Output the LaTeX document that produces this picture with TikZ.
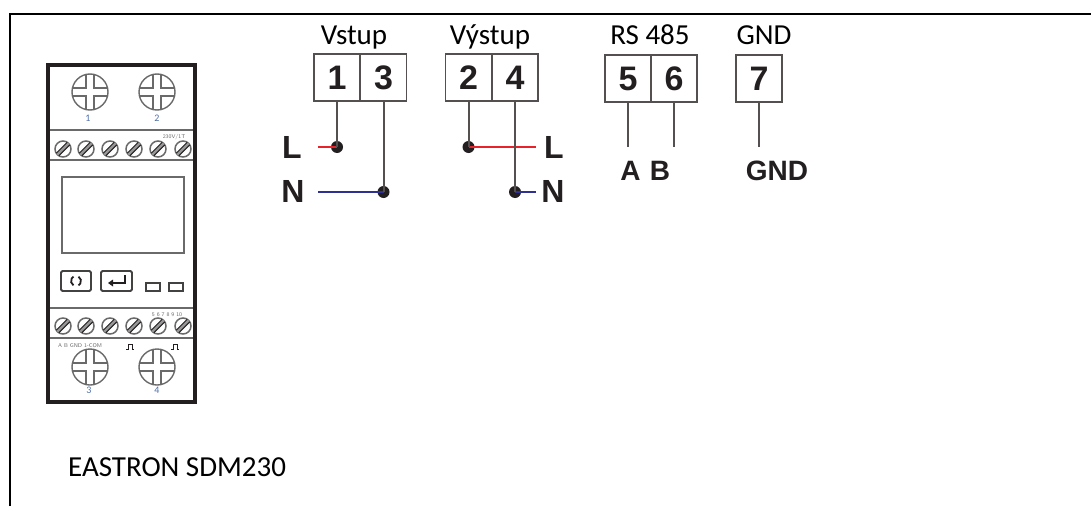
\documentclass[tikz,border=0pt]{standalone}
\usepackage{fontspec}
\setmainfont{Carlito}
\newfontfamily\labelfont{Liberation Sans}

\definecolor{ink}{HTML}{231F20}
\definecolor{wire}{HTML}{555050}
\definecolor{lred}{HTML}{E8222B}
\definecolor{lblue}{HTML}{2E3192}
\definecolor{meter}{HTML}{6A6A6A}
\definecolor{tag}{HTML}{4F6FA8}

\tikzset{
  frameline/.style={line width=2.4, black},
  meterline/.style={draw=meter, line width=1.4},
  cell/.style={draw=wire, line width=1.6, minimum width=46, minimum height=47,
    inner sep=0, text=ink, font=\labelfont\bfseries\fontsize{34}{34}\selectfont},
  heading/.style={anchor=base, inner sep=0, text=black, font=\fontsize{29}{30}\selectfont},
  termlabel/.style={anchor=base, inner sep=0, text=ink, font=\labelfont\bfseries\fontsize{32}{32}\selectfont},
  buslabel/.style={anchor=base, inner sep=0, text=ink, font=\labelfont\bfseries\fontsize{28}{28}\selectfont},
  wireline/.style={draw=wire, line width=2},
  phase/.style={draw=lred, line width=2},
  neutral/.style={draw=lblue, line width=2},
  dot/.style={circle, fill=ink, inner sep=0, minimum size=12},
  tiny/.style={inner sep=0, text=tag, font=\fontsize{10}{10}\selectfont},
  micro/.style={inner sep=0, text=meter, font=\sffamily\fontsize{5.5}{6}\selectfont},
  bigscrew/.pic={
    \draw[meterline] (0,0) circle (18);
    \foreach \a in {0,90,180,270}
      \draw[meterline, rotate=\a] (4,-17.55) -- (4,-4) -- (17.55,-4);
  },
  smallscrew/.pic={
    \draw[meterline, line width=1.5] (0,0) circle (8);
    \fill[meter!70] (6.79,-4.25) -- (-4.25,6.79) -- (-6.79,4.25) -- (4.25,-6.79) -- cycle;
    \draw[draw=ink, line width=1] (6.79,-4.25) -- (-4.25,6.79)
                                  (4.25,-6.79) -- (-6.79,4.25);
  },
}

\begin{document}
\begin{tikzpicture}[x=1pt, y=-1pt]
\useasboundingbox (0,0) rectangle (1091,506);

% page frame (top and left edges)
\draw[frameline] (10,506) -- (10,14) -- (1091,14);

% ---------- meter front view ----------
\draw[draw=ink, line width=4] (48,65) rectangle (195,402);
\pic at (90,92) {bigscrew};
\pic at (157,92) {bigscrew};
\node[tiny] (n1) at (88,118) {1};
\node[tiny] (n2) at (157,118) {2};
\draw[meterline, line width=2.2] (50,130) -- (193,130);
\node[micro] (volt) at (174,137) {230V/1T};
\foreach \x in {63,86,110,134,158,183}
  \pic at (\x,149) {smallscrew};
\draw[meterline] (50,160) -- (193,160);
\draw[meterline] (62,177) rectangle (184,253);
% keys and indicator lamps
\draw[draw=ink!85, line width=1.8, rounded corners=1.5] (61,271) rectangle (91,291);
\draw[ink, line width=1.8] (76,281) ++(120:5) arc (120:240:5);
\draw[ink, line width=1.8] (76,281) ++(-60:5) arc (-60:60:5);
\draw[draw=ink!85, line width=1.8, rounded corners=1.5] (101,271) rectangle (132,291);
\draw[ink, line width=1.5] (125,275) -- (125,283) -- (112,283);
\fill[ink] (108,283) -- (113,279.5) -- (113,286.5) -- cycle;
\draw[draw=ink!85, line width=1.5] (146,283) rectangle (160,291);
\draw[draw=ink!85, line width=1.5] (169,283) rectangle (183,291);
\draw[meterline] (50,308) -- (193,308);
\node[micro] (nums) at (167,315) {5 6 7 8 9 10};
\foreach \x in {63,86,110,134,158,183}
  \pic at (\x,326) {smallscrew};
\draw[meterline, line width=2.4] (50,338) -- (193,338);
\node[micro, anchor=west] (bus) at (58,346) {A B GND 1-COM};
\draw[ink, line width=0.9] (126,349) -- (128,349) -- (128,344.5) -- (132,344.5) -- (132,349) -- (134,349);
\draw[ink, line width=0.9] (171,349) -- (173,349) -- (173,344.5) -- (177,344.5) -- (177,349) -- (179,349);
\pic at (90,367) {bigscrew};
\pic at (157,367) {bigscrew};
\node[tiny] (n3) at (89,390) {3};
\node[tiny] (n4) at (157,390) {4};

\node[anchor=base west, inner sep=0, font=\fontsize{29}{30}\selectfont] (model) at (68,476) {EASTRON SDM230};

% ---------- terminal headings ----------
\node[heading] (hin)  at (354,44) {Vstup};
\node[heading] (hout) at (490,44) {Výstup};
\node[heading] (hbus) at (650,44) {RS 485};
\node[heading] (hgnd) at (764,44) {GND};

% ---------- terminal cells ----------
\node[cell] (t1) at (337,77.5) {1};
\node[cell] (t3) at (383.5,77.5) {3};
\node[cell] (t2) at (468.5,77.5) {2};
\node[cell] (t4) at (515,77.5) {4};
\node[cell] (t5) at (628,78.5) {5};
\node[cell] (t6) at (674,78.5) {6};
\node[cell] (t7) at (759,78.5) {7};

% ---------- supply side ----------
\coordinate (inL) at (318,147);
\coordinate (inN) at (318,192);
\node[dot] (d1) at (t1.south |- inL) {};
\node[dot] (d3) at (t3.south |- inN) {};
\draw[phase] (inL) -- (d1.center);
\draw[neutral] (inN) -- (d3.center);
\draw[wireline] (t1.south) -- (d1.center);
\draw[wireline] (t3.south) -- (d3.center);
\node[termlabel] (lin) at (292,158) {L};
\node[termlabel] (nin) at (293,202) {N};

% ---------- load side ----------
\coordinate (outL) at (536,147);
\coordinate (outN) at (536,192);
\node[dot] (d2) at (t2.south |- outL) {};
\node[dot] (d4) at (t4.south |- outN) {};
\draw[phase] (d2.center) -- (outL);
\draw[neutral] (d4.center) -- (outN);
\draw[wireline] (t2.south) -- (d2.center);
\draw[wireline] (t4.south) -- (d4.center);
\node[termlabel] (lout) at (554,158) {L};
\node[termlabel] (nout) at (553,202) {N};

% ---------- RS485 and ground ----------
\coordinate (ea) at (t5.south |- 0,147);
\coordinate (eb) at (t6.south |- 0,147);
\coordinate (eg) at (t7.south |- 0,147);
\draw[wireline] (t5.south) -- (ea);
\draw[wireline] (t6.south) -- (eb);
\draw[wireline] (t7.south) -- (eg);
\node[buslabel] (la) at (630.5,180) {A};
\node[buslabel] (lb) at (660,180) {B};
\node[buslabel] (lg) at (777,180) {GND};
\end{tikzpicture}
\end{document}
